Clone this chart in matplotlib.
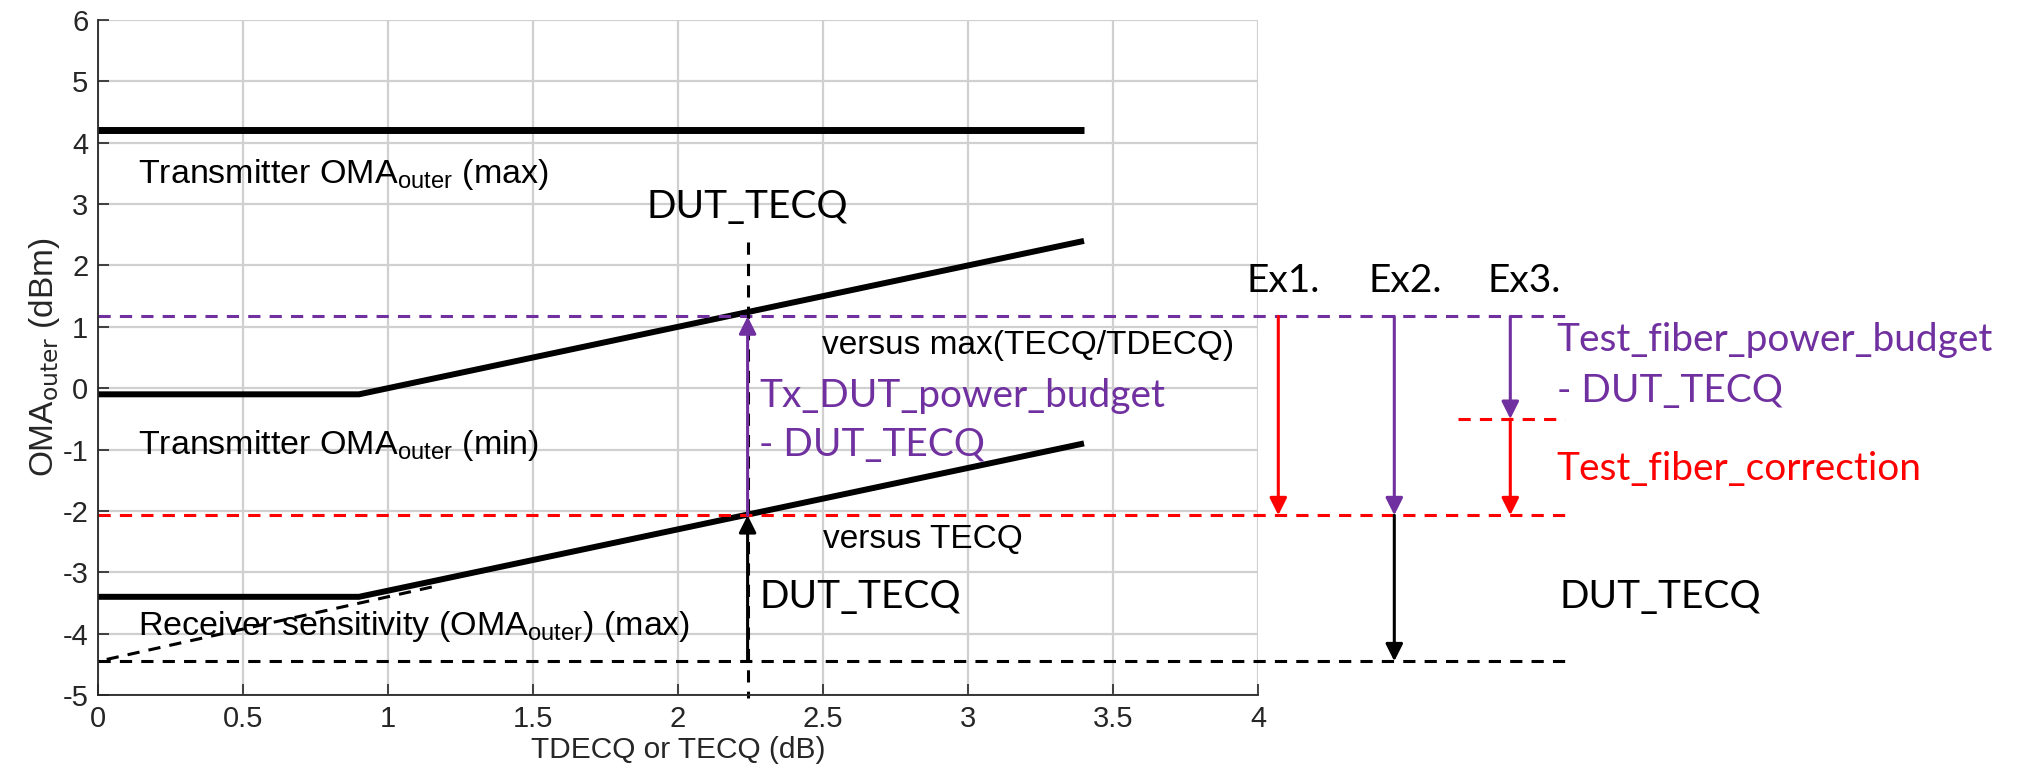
import matplotlib
matplotlib.use("Agg")
import matplotlib.pyplot as plt

# ---- data ----
tx_max_x = [0.0, 3.4]
tx_max_y = [4.2, 4.2]
tx_min_x = [0.0, 0.9, 3.4]
tx_min_y = [-0.1, -0.1, 2.4]
rx_x = [0.0, 0.9, 3.4]
rx_y = [-3.4, -3.4, -0.9]
rx_dash_x = [0.03, 1.17]
rx_dash_y = [-4.42, -3.22]

purple_level = 1.17
red_level = -2.07
black_level = -4.45
ex3_level = -0.5
dut_x = 2.24
dut_dash_top = 2.38
ex_x = [4.07, 4.47, 4.87]
ex_labels = ["Ex1.", "Ex2.", "Ex3."]
line_end = 5.06
ex3_dash_start = 4.69

xticks = [0, 0.5, 1, 1.5, 2, 2.5, 3, 3.5, 4]
xtick_labels = ["0", "0.5", "1", "1.5", "2", "2.5", "3", "3.5", "4"]
yticks = [-5, -4, -3, -2, -1, 0, 1, 2, 3, 4, 5, 6]
ytick_labels = ["-5", "-4", "-3", "-2", "-1", "0", "1", "2", "3", "4", "5", "6"]

PURPLE = "#7030A0"
RED = "#FF0000"
TXT = "#262626"

plt.rcParams["font.family"] = ["Liberation Sans", "DejaVu Sans"]
plt.rcParams["mathtext.fontset"] = "custom"
plt.rcParams["mathtext.rm"] = "Liberation Sans"
plt.rcParams["mathtext.it"] = "Liberation Sans"

CAL = ["Lato", "DejaVu Sans"]

fig = plt.figure(figsize=(20.31, 7.74), dpi=100)
ax = fig.add_axes([98 / 2031, 79 / 774, 1160 / 2031, 675 / 774])
ax.set_xlim(0, 4)
ax.set_ylim(-5, 6)
ax.set_xticks(xticks)
ax.set_xticklabels(xtick_labels)
ax.set_yticks(yticks)
ax.set_yticklabels(ytick_labels)
ax.tick_params(direction="in", length=8, width=1.2, colors=TXT, labelsize=21,
               pad=7)
ax.grid(True, color="#d0d0d0", linewidth=1.6)
ax.set_axisbelow(True)
for s in ["top", "right"]:
    ax.spines[s].set_visible(False)
for s in ["left", "bottom"]:
    ax.spines[s].set_color(TXT)
    ax.spines[s].set_linewidth(1.3)

ax.set_xlabel("TDECQ or TECQ (dB)", fontsize=21.5, color=TXT, labelpad=2)
ax.set_ylabel(r"OMA$_{\mathsf{outer}}$ (dBm)", fontsize=24, color=TXT, labelpad=0)

dash = (4, 3)

# main curves
ax.plot(tx_max_x, tx_max_y, color="black", lw=5.0, solid_capstyle="butt")
ax.plot(tx_min_x, tx_min_y, color="black", lw=4.3, solid_capstyle="butt")
ax.plot(rx_x, rx_y, color="black", lw=4.3, solid_capstyle="butt")
ax.plot(rx_dash_x, rx_dash_y, color="black", lw=2.2, dashes=dash)

# horizontal dashed reference lines
ax.plot([0, line_end], [purple_level, purple_level], color=PURPLE, lw=2.2,
        dashes=dash, clip_on=False)
ax.plot([0, line_end], [red_level, red_level], color=RED, lw=2.2,
        dashes=dash, clip_on=False)
ax.plot([0, line_end], [black_level, black_level], color="black", lw=2.2,
        dashes=dash, clip_on=False)
ax.plot([ex3_dash_start, line_end], [ex3_level, ex3_level], color=RED, lw=2.2,
        dashes=dash, clip_on=False)

# vertical dashed at DUT_TECQ
ax.plot([dut_x, dut_x], [dut_dash_top, -5.05], color="black", lw=2.2,
        dashes=dash, clip_on=False)


def arrow(x, y0, y1, color):
    ax.annotate("", xy=(x, y1), xytext=(x, y0),
                arrowprops=dict(arrowstyle="-|>", color=color, lw=2.2,
                                mutation_scale=26, shrinkA=0, shrinkB=0),
                annotation_clip=False)


arrow(dut_x, red_level, purple_level, PURPLE)
arrow(dut_x, black_level, red_level, "black")
arrow(ex_x[0], purple_level, red_level, RED)
arrow(ex_x[1], purple_level, red_level, PURPLE)
arrow(ex_x[1], red_level, black_level, "black")
arrow(ex_x[2], purple_level, ex3_level, PURPLE)
arrow(ex_x[2], ex3_level, red_level, RED)

# MATLAB-style labels
lab = dict(fontsize=24.5, color="black", va="baseline", ha="left")
ax.text(0.138, 3.34, r"Transmitter OMA$_{\rm outer}$ (max)", **lab)
ax.text(0.138, -1.07, r"Transmitter OMA$_{\rm outer}$ (min)", **lab)
ax.text(0.138, -4.02, r"Receiver sensitivity (OMA$_{\rm outer}$) (max)", **lab)
ax.text(2.496, 0.56, "versus max(TECQ/TDECQ)", **dict(lab, fontsize=24))
ax.text(2.5, -2.6, "versus TECQ", **dict(lab, fontsize=24))

# Office-style annotations
cal = dict(fontsize=28, family=CAL, va="baseline", ha="left")
ax.text(dut_x, 2.95, "DUT_TECQ", color="black", clip_on=False,
        **dict(cal, ha="center", va="center"))
ax.text(2.28, -0.30, "Tx_DUT_power_budget", color=PURPLE, **cal)
ax.text(2.28, -1.11, "- DUT_TECQ", color=PURPLE, **cal)
ax.text(2.28, -3.58, "DUT_TECQ", color="black", **cal)
for xx, t in zip([3.96, 4.38, 4.79], ex_labels):
    ax.text(xx, 1.57, t, color="black", clip_on=False, **cal)
ax.text(5.03, 0.60, "Test_fiber_power_budget", color=PURPLE, clip_on=False, **cal)
ax.text(5.03, -0.22, "- DUT_TECQ", color=PURPLE, clip_on=False, **cal)
ax.text(5.03, -1.49, "Test_fiber_correction", color=RED, clip_on=False, **cal)
ax.text(5.04, -3.58, "DUT_TECQ", color="black", clip_on=False, **cal)

fig.savefig("out.png", dpi=100, facecolor="white")
